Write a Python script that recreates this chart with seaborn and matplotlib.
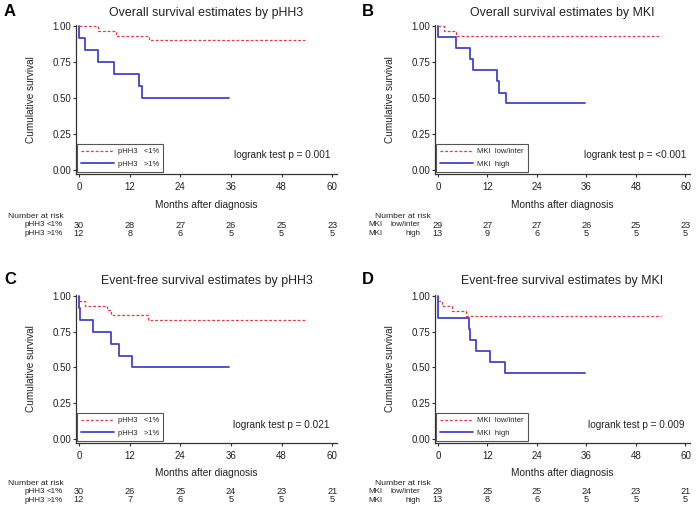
import pandas as pd
import seaborn as sns
import matplotlib.pyplot as plt
from matplotlib.transforms import blended_transform_factory

W, H = 697, 516

# -------------------- DATA --------------------
month_ticks = [0, 12, 24, 36, 48, 60]
surv_ticks = [0.0, 0.25, 0.5, 0.75, 1.0]

# A: overall survival by pHH3
a_low_t = [0, 4.6, 8.7, 16.6, 53.6]
a_low_s = [1.0, 0.967, 0.933, 0.900, 0.900]
a_high_t = [0, 0.1, 1.4, 4.4, 8.3, 14.2, 15.0, 35.6]
a_high_s = [1.0, 0.917, 0.833, 0.750, 0.667, 0.583, 0.500, 0.500]

# B: overall survival by MKI
b_low_t = [0, 1.5, 4.5, 54.0]
b_low_s = [1.0, 0.966, 0.931, 0.931]
b_high_t = [0, 0.1, 4.5, 7.9, 8.5, 14.3, 14.9, 16.5, 35.7]
b_high_s = [1.0, 0.923, 0.846, 0.769, 0.692, 0.615, 0.538, 0.462, 0.462]

# C: event-free survival by pHH3
c_low_t = [0, 0.1, 1.4, 6.7, 7.7, 16.3, 53.6]
c_low_s = [1.0, 0.967, 0.933, 0.900, 0.867, 0.833, 0.833]
c_high_t = [0, 0.1, 0.3, 3.4, 7.6, 9.5, 12.6, 35.6]
c_high_s = [1.0, 0.917, 0.833, 0.750, 0.667, 0.583, 0.500, 0.500]

# D: event-free survival by MKI
d_low_t = [0, 0.1, 1.05, 3.3, 6.7, 54.0]
d_low_s = [1.0, 0.966, 0.931, 0.897, 0.862, 0.862]
d_high_t = [0, 0.1, 7.5, 7.7, 9.3, 12.6, 16.2, 35.7]
d_high_s = [1.0, 0.846, 0.769, 0.692, 0.615, 0.538, 0.462, 0.462]

# number at risk at 0, 12, 24, 36, 48, 60 months
a_risk_low = [30, 28, 27, 26, 25, 23]
a_risk_high = [12, 8, 6, 5, 5, 5]
b_risk_low = [29, 27, 27, 26, 25, 23]
b_risk_high = [13, 9, 6, 5, 5, 5]
c_risk_low = [30, 26, 25, 24, 23, 21]
c_risk_high = [12, 7, 6, 5, 5, 5]
d_risk_low = [29, 25, 25, 24, 23, 21]
d_risk_high = [13, 8, 6, 5, 5, 5]

titles = ["Overall survival estimates by pHH3", "Overall survival estimates by MKI",
          "Event-free survival estimates by pHH3", "Event-free survival estimates by MKI"]
letters = ["A", "B", "C", "D"]
pvals = ["logrank test p = 0.001", "logrank test p = <0.001",
         "logrank test p = 0.021", "logrank test p = 0.009"]
pval_x = [59.5, 60.2, 59.3, 59.8]
pval_y = [0.104, 0.104, 0.098, 0.098]

phh3_legend = ["pHH3   <1%", "pHH3   >1%"]
mki_legend = ["MKI  low/inter", "MKI  high"]
phh3_rows = [("pHH3", "<1%"), ("pHH3", ">1%")]
mki_rows = [("MKI", "low/inter"), ("MKI", "high")]

RED = "#e33b3b"
BLUE = "#4343cc"
GREY = "#333333"
INK = "#222222"

# -------------------- STYLE --------------------
sns.set_theme(style="ticks")
plt.rcParams["font.family"] = ["Liberation Sans", "DejaVu Sans"]
plt.rcParams["axes.edgecolor"] = GREY
plt.rcParams["axes.linewidth"] = 0.9
plt.rcParams["xtick.color"] = GREY
plt.rcParams["ytick.color"] = GREY

fig = plt.figure(figsize=(W / 100, H / 100), dpi=100)
fig.patch.set_facecolor("white")


def fx(x):
    return x / W


def fy(y):
    return 1 - y / H


# axes boxes in pixels: left, right, top, bottom
boxes = [(76, 337, 24.6, 173.7), (435, 690, 24.6, 173.7),
         (76, 337, 294.6, 442.6), (435, 690, 294.6, 442.6)]
title_y = [13, 13, 281, 281]
letter_xy = [(10, 12), (368, 12), (10, 280), (368, 280)]
risk_y = [(216.5, 225.0, 233.5), (216.5, 225.0, 233.5),
          (483.5, 491.5, 500.0), (483.5, 491.5, 500.0)]
# name left, level right, header left
risk_lab_x = [(25, 63, 8.3), (368, 420, 374.7), (25, 63, 8.3), (368, 420, 374.7)]

panels = [
    (a_low_t, a_low_s, a_high_t, a_high_s, a_risk_low, a_risk_high, phh3_legend, phh3_rows),
    (b_low_t, b_low_s, b_high_t, b_high_s, b_risk_low, b_risk_high, mki_legend, mki_rows),
    (c_low_t, c_low_s, c_high_t, c_high_s, c_risk_low, c_risk_high, phh3_legend, phh3_rows),
    (d_low_t, d_low_s, d_high_t, d_high_s, d_risk_low, d_risk_high, mki_legend, mki_rows),
]

for i, (lt, ls, ht, hs, rlow, rhigh, leg_labels, row_labels) in enumerate(panels):
    l, r, t, b = boxes[i]
    ax = fig.add_axes([fx(l), fy(b), (r - l) / W, (b - t) / H])

    df = pd.concat([
        pd.DataFrame({"time": lt, "surv": ls, "group": "low"}),
        pd.DataFrame({"time": ht, "surv": hs, "group": "high"}),
    ], ignore_index=True)

    sns.lineplot(data=df, x="time", y="surv", hue="group", style="group",
                 hue_order=["low", "high"], style_order=["low", "high"],
                 palette={"low": RED, "high": BLUE},
                 dashes={"low": (2.2, 1.6), "high": ""},
                 drawstyle="steps-post", estimator=None, legend=False, ax=ax)
    ax.lines[0].set_linewidth(0.9)
    ax.lines[1].set_linewidth(1.3)

    ax.set_xlim(-0.7, 61.1)
    ax.set_ylim(-0.026, 1.01)
    ax.set_xticks(month_ticks)
    ax.set_yticks(surv_ticks)
    ax.set_yticklabels([f"{v:.2f}" for v in surv_ticks])
    sns.despine(ax=ax)
    ax.tick_params(axis="both", direction="out", length=2.2, width=0.8,
                   labelsize=7, labelcolor=INK)
    ax.tick_params(axis="x", pad=4)
    ax.tick_params(axis="y", pad=1)

    ax.set_xlabel("Months after diagnosis", fontsize=7.3, color=INK)
    ax.xaxis.set_label_coords(0.5, -0.175)
    ax.set_ylabel("Cumulative survival", fontsize=7.2, color=INK)
    ax.yaxis.set_label_coords(-0.155, 0.5)

    leg = ax.legend(handles=ax.lines[:2], labels=leg_labels, loc="lower left",
                    bbox_to_anchor=(0.004, 0.01), borderaxespad=0, fontsize=5.5,
                    handlelength=4.3, handletextpad=0.5, labelspacing=0.7,
                    borderpad=0.55, fancybox=False, framealpha=1)
    leg.get_frame().set_edgecolor("#555555")
    leg.get_frame().set_linewidth(0.8)

    ax.text(pval_x[i], pval_y[i], pvals[i], ha="right", va="center",
            fontsize=7.2, color=INK)

    # titles and panel letters
    fig.text(fx((l + r) / 2), fy(title_y[i]), titles[i], ha="center", va="center",
             fontsize=8.9, color=INK)
    fig.text(fx(letter_xy[i][0]), fy(letter_xy[i][1]), letters[i], ha="center",
             va="center", fontsize=12, fontweight="bold", color="black")

    # number at risk table
    tr = blended_transform_factory(ax.transData, fig.transFigure)
    hy, y1, y2 = risk_y[i]
    nx, lx, hx = risk_lab_x[i]
    fig.text(fx(hx), fy(hy), "Number at risk", ha="left", va="center",
             fontsize=6.1, color=INK)
    for (name, level), yy, counts in zip(row_labels, (y1, y2), (rlow, rhigh)):
        fig.text(fx(nx), fy(yy), name, ha="left", va="center", fontsize=5.8, color=INK)
        fig.text(fx(lx), fy(yy), level, ha="right", va="center", fontsize=5.8, color=INK)
        for m, n in zip(month_ticks, counts):
            ax.text(m, fy(yy), str(n), transform=tr, ha="center", va="center",
                    fontsize=6.6, color=INK)

fig.savefig("out.png", dpi=100, facecolor="white")
